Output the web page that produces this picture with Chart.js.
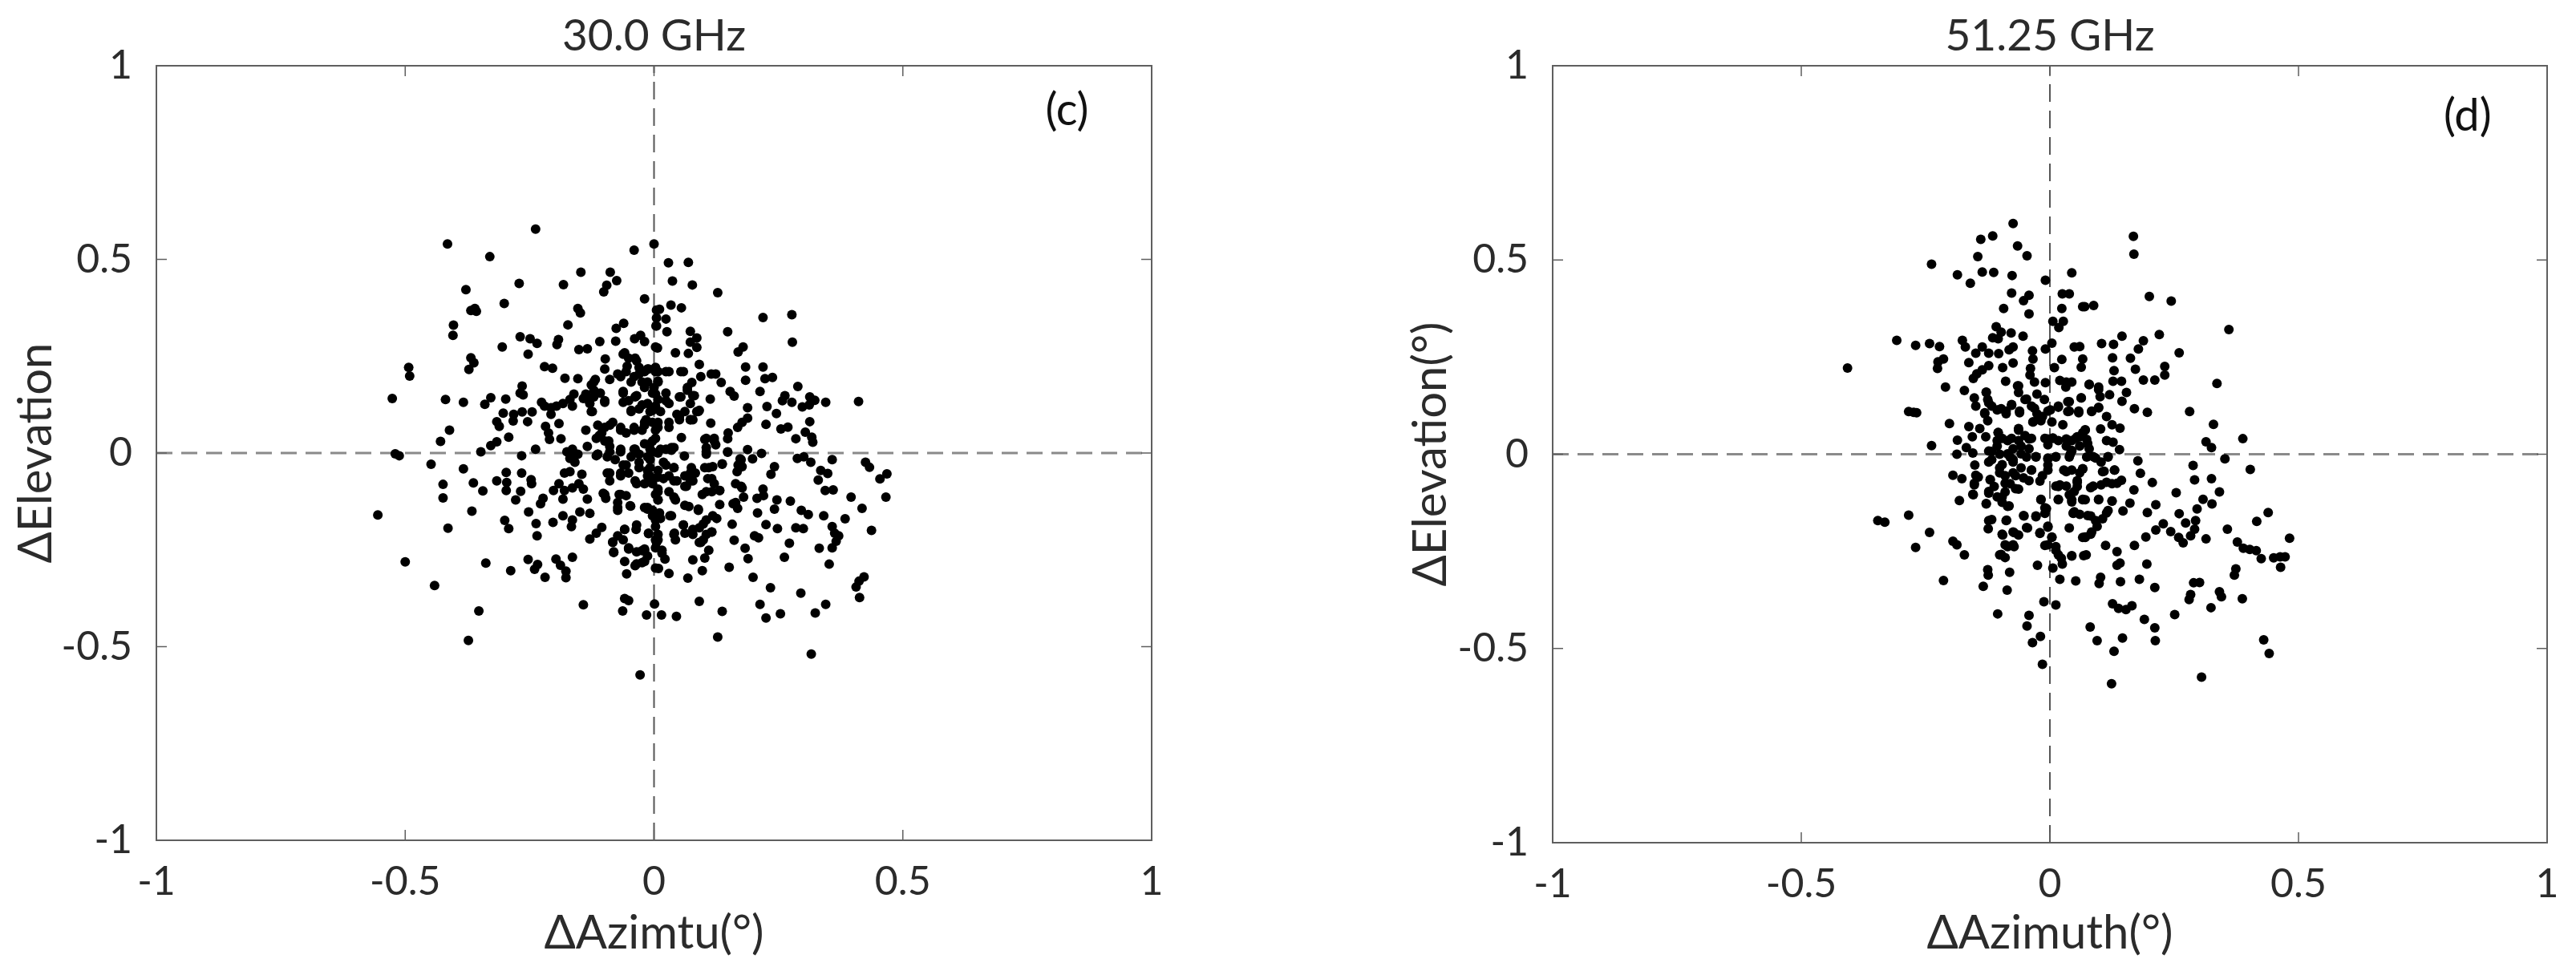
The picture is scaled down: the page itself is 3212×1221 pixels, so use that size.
<!DOCTYPE html>
<html lang="en">

<head>
    <meta charset="UTF-8" />
    <title>Pointing error scatter</title>
    <script src="https://cdn.jsdelivr.net/npm/chart.js"></script>
    <style>
        body {
            margin: 0;
            background: #fff;
        }

        canvas {
            position: absolute;
            top: 0;
        }
    </style>
</head>

<body>

    <canvas id="chart30" width="1600" height="1221" style="left:0"></canvas>
    <canvas id="chart51" width="1612" height="1221" style="left:1600px"></canvas>

    <script>
        const tickValues = [-1, -0.5, 0, 0.5, 1];
        const tickLabels = ['-1', '-0.5', '0', '0.5', '1'];

        // [dAzimuth, dElevation] in degrees
        const points30 = [
            [-0.238,0.578],[-0.415,0.540],[-0.330,0.507],[-0.378,0.422],[-0.271,0.438],[-0.301,0.386],[-0.368,0.368],[-0.360,0.373],[-0.357,0.366],[-0.403,0.330],
            [-0.404,0.304],[-0.182,0.435],[-0.147,0.467],[-0.088,0.467],[-0.075,0.445],[-0.095,0.433],[-0.101,0.416],[-0.040,0.524],[0,0.540],[-0.019,0.398],
            [-0.153,0.373],[-0.148,0.362],[-0.173,0.331],[-0.061,0.335],[-0.076,0.322],[-0.269,0.300],[-0.249,0.295],[-0.235,0.283],[-0.192,0.293],[-0.195,0.280],
            [-0.305,0.274],[-0.253,0.255],[-0.151,0.267],[-0.134,0.269],[-0.109,0.288],[-0.077,0.289],[-0.039,0.295],[-0.027,0.304],[-0.019,0.288],[0.003,0.274],
            [-0.368,0.246],[-0.362,0.233],[-0.372,0.216],[-0.493,0.221],[-0.491,0.199],[-0.220,0.223],[-0.204,0.219],[-0.179,0.193],[-0.153,0.192],[-0.098,0.243],
            [-0.099,0.217],[-0.526,0.141],[-0.419,0.138],[-0.383,0.131],[-0.328,0.143],[-0.340,0.126],[-0.298,0.139],[-0.265,0.173],[-0.269,0.155],[-0.263,0.150],
            [-0.303,0.103],[-0.316,0.081],[-0.311,0.069],[-0.282,0.100],[-0.283,0.083],[-0.265,0.106],[-0.245,0.106],[-0.254,0.081],[-0.411,0.059],[-0.429,0.030],
            [-0.292,0.041],[-0.316,0.029],[-0.328,0.019],[-0.348,0.003],[-0.238,0.010],[-0.266,-0.007],[-0.520,-0.002],[-0.512,-0.007],[-0.226,0.131],[-0.220,0.121],
            [-0.207,0.117],[-0.196,0.121],[-0.183,0.128],[-0.169,0.138],[-0.161,0.152],[-0.164,0.121],[-0.142,0.141],[-0.132,0.138],[-0.126,0.176],[-0.118,0.190],
            [-0.121,0.162],[-0.129,0.128],[-0.124,0.107],[-0.099,0.131],[-0.108,0.155],[-0.207,0.100],[-0.218,0.069],[-0.212,0.052],[-0.210,0.035],[-0.191,0.076],
            [-0.187,0.037],[-0.137,0.059],[-0.134,0.017],[-0.175,0.003],[-0.164,0.010],[-0.153,-0.003],[-0.169,-0.014],[-0.113,0.072],[-0.105,0.052],[-0.116,0.038],
            [-0.099,0.031],[-0.083,0.079],[-0.067,0.066],[-0.056,0.052],[-0.040,0.066],[-0.019,0.072],[-0.003,0.079],[-0.089,0.017],[-0.067,0.010],[-0.040,0.010],
            [-0.019,0.024],[-0.008,0.010],[-0.113,-0.003],[-0.059,0.259],[-0.051,0.245],[-0.035,0.238],[-0.073,0.204],[-0.056,0.210],[-0.046,0.183],[-0.030,0.204],
            [-0.013,0.217],[0.003,0.210],[-0.062,0.155],[-0.051,0.135],[-0.035,0.148],[-0.019,0.169],[0,0.169],[-0.046,0.107],[-0.030,0.114],[-0.013,0.128],
            [0.003,0.121],[-0.089,0.190],[0.005,0.369],[0.005,0.349],[0.005,0.328],[0.029,0.491],[0.069,0.492],[0.037,0.444],[0.077,0.434],[0.128,0.414],
            [0.011,0.371],[0.034,0.382],[0.055,0.375],[0.024,0.346],[0.004,0.328],[0.026,0.313],[0.073,0.314],[0.086,0.297],[0.073,0.286],[0.086,0.273],
            [0.069,0.257],[0.043,0.259],[0.007,0.271],[0.148,0.313],[0.179,0.274],[0.169,0.261],[0.219,0.350],[0.277,0.357],[0.278,0.286],[0.091,0.229],
            [0.184,0.222],[0.219,0.222],[0.184,0.188],[0.223,0.192],[0.238,0.195],[0.289,0.172],[0.213,0.159],[0.094,0.197],[0.115,0.204],[0.124,0.204],
            [0.135,0.182],[0.076,0.182],[0.153,0.159],[0.161,0.147],[0.113,0.139],[0.081,0.148],[0.054,0.145],[0.263,0.148],[0.258,0.135],[0.277,0.131],
            [0.313,0.145],[0.323,0.136],[0.312,0.124],[0.298,0.119],[0.345,0.131],[0.411,0.133],[0.188,0.117],[0.227,0.120],[0.246,0.102],[0.313,0.081],
            [0.225,0.074],[0.269,0.067],[0.255,0.062],[0.114,0.077],[0.188,0.090],[0.177,0.079],[0.168,0.066],[0.086,0.107],[0.091,0.110],[0.078,0.086],
            [0.055,0.040],[0.149,0.052],[0.148,0.037],[0.304,0.054],[0.317,0.041],[0.319,0.028],[0.285,0.037],[0.102,0.035],[0.121,0.038],[0.124,0.021],
            [0.105,0.014],[0.105,-0.003],[0.148,0.002],[0.188,0.009],[0.216,-0.001],[0.198,-0.015],[0.173,-0.015],[0.061,-0.008],[0.040,0.014],[-0.003,0.031],
            [-0.003,0.003],[0.024,0.010],[-0.011,0.217],[0.008,0.210],[0.030,0.210],[0.059,0.210],[-0.013,0.183],[0.008,0.183],[-0.003,0.155],[0.024,0.155],
            [0.008,0.138],[0.030,0.128],[-0.008,0.107],[0.013,0.107],[-0.016,0.086],[0.008,0.079],[0.030,0.066],[0.051,0.086],[0.073,0.128],[0.062,0.107],
            [0.046,0.100],[0.073,0.086],[-0.024,0.059],[0.003,0.059],[0.067,0.162],[-0.448,-0.029],[-0.383,-0.041],[-0.424,-0.081],[-0.424,-0.116],[-0.363,-0.077],
            [-0.344,-0.098],[-0.316,-0.072],[-0.297,-0.050],[-0.296,-0.076],[-0.297,-0.097],[-0.266,-0.052],[-0.247,-0.069],[-0.246,-0.079],[-0.268,-0.099],[-0.278,-0.121],
            [-0.555,-0.160],[-0.366,-0.150],[-0.414,-0.194],[-0.252,-0.152],[-0.223,-0.117],[-0.228,-0.131],[-0.300,-0.174],[-0.292,-0.195],[-0.237,-0.182],[-0.235,-0.214],
            [-0.203,-0.179],[-0.183,-0.162],[-0.164,-0.173],[-0.166,-0.190],[-0.149,-0.152],[-0.129,-0.156],[-0.134,-0.119],[-0.183,-0.119],[-0.202,-0.097],[-0.191,-0.079],
            [-0.180,-0.097],[-0.164,-0.090],[-0.151,-0.079],[-0.145,-0.055],[-0.142,-0.093],[-0.164,-0.010],[-0.169,-0.048],[-0.159,-0.024],[-0.180,-0.052],[-0.102,-0.104],
            [-0.097,-0.117],[-0.105,-0.192],[-0.116,-0.207],[-0.129,-0.222],[-0.070,-0.107],[-0.056,-0.110],[-0.073,-0.128],[-0.073,-0.148],[-0.047,-0.137],[-0.035,-0.186],
            [-0.036,-0.197],[-0.059,-0.197],[-0.073,-0.214],[-0.083,-0.230],[-0.011,-0.208],[-0.062,-0.224],[-0.051,-0.248],[-0.035,-0.255],[-0.019,-0.248],[-0.013,-0.266],
            [-0.024,-0.283],[-0.038,-0.291],[-0.081,-0.257],[-0.059,-0.280],[-0.055,-0.312],[0.003,-0.297],[-0.500,-0.281],[-0.338,-0.284],[-0.441,-0.342],[-0.288,-0.304],
            [-0.253,-0.275],[-0.234,-0.288],[-0.240,-0.300],[-0.219,-0.321],[-0.197,-0.274],[-0.188,-0.290],[-0.177,-0.305],[-0.177,-0.322],[-0.164,-0.269],[-0.352,-0.408],
            [-0.373,-0.484],[-0.142,-0.392],[-0.059,-0.376],[-0.051,-0.381],[-0.063,-0.408],[-0.015,-0.418],[0.001,-0.390],[-0.028,-0.573],[-0.094,-0.052],[-0.089,-0.072],
            [-0.067,-0.059],[-0.051,-0.052],[-0.030,-0.038],[-0.013,-0.059],[-0.003,-0.079],[0.003,-0.107],[-0.013,-0.141],[-0.003,-0.162],[0.003,-0.190],[0.003,-0.224],
            [0.003,-0.245],[-0.078,-0.017],[-0.062,-0.031],[-0.046,-0.010],[-0.030,-0.003],[-0.008,-0.017],[-0.116,-0.007],[-0.094,-0.010],[-0.035,-0.079],[0.242,-0.035],
            [0.235,-0.055],[0.288,-0.014],[0.301,-0.010],[0.315,-0.024],[0.358,-0.017],[0.335,-0.045],[0.349,-0.053],[0.330,-0.070],[0.344,-0.097],[0.360,-0.095],
            [0.425,-0.024],[0.433,-0.037],[0.468,-0.054],[0.454,-0.067],[0.466,-0.114],[0.396,-0.114],[0.418,-0.143],[0.384,-0.170],[0.341,-0.162],[0.437,-0.200],
            [0.358,-0.190],[0.363,-0.207],[0.371,-0.214],[0.366,-0.228],[0.332,-0.246],[0.358,-0.245],[0.352,-0.287],[0.422,-0.320],[0.412,-0.331],[0.406,-0.346],
            [0.413,-0.373],[0.296,-0.148],[0.310,-0.159],[0.274,-0.124],[0.285,-0.193],[0.300,-0.195],[0.247,-0.121],[0.242,-0.145],[0.248,-0.195],[0.225,-0.185],
            [0.219,-0.093],[0.220,-0.110],[0.207,-0.117],[0.208,-0.155],[0.202,-0.214],[0.210,-0.219],[0.272,-0.233],[0.262,-0.269],[0.183,-0.246],[0.189,-0.273],
            [0.161,-0.225],[0.157,-0.184],[0.151,-0.295],[0.199,-0.321],[0.234,-0.348],[0.295,-0.362],[0.213,-0.391],[0.225,-0.426],[0.254,-0.415],[0.324,-0.413],
            [0.345,-0.391],[0.316,-0.519],[0.128,-0.475],[0.137,-0.409],[0.091,-0.383],[0.045,-0.422],[0.015,-0.418],[0.068,-0.323],[0.097,-0.304],[0.030,-0.311],
            [0.009,-0.298],[0.078,-0.276],[0.102,-0.271],[0.110,-0.251],[0.091,-0.231],[0.022,-0.274],[0.016,-0.251],[0.005,-0.231],[0.008,-0.210],[0.043,-0.224],
            [0.041,-0.207],[0.059,-0.186],[0.062,-0.207],[0.078,-0.210],[0.091,-0.193],[0.105,-0.173],[0.118,-0.162],[0.105,-0.210],[0.116,-0.204],[0.099,-0.224],
            [0.132,-0.133],[0.159,-0.131],[0.168,-0.143],[0.180,-0.114],[0.177,-0.090],[0.164,-0.079],[0.167,-0.048],[0.175,-0.017],[0.177,-0.035],[0.137,-0.029],
            [0.118,-0.035],[0.102,-0.038],[0.108,-0.066],[0.121,-0.079],[0.132,-0.097],[0.116,-0.100],[0.097,-0.107],[0.075,-0.038],[0.083,-0.052],[0.062,-0.059],
            [0.073,-0.072],[0.065,-0.086],[0.043,-0.121],[0.070,-0.138],[0.089,-0.148],[0.032,-0.162],[0.011,-0.155],[0.003,-0.173],[-0.013,-0.145],[-0.019,-0.280],
            [-0.019,-0.252],[0.040,-0.038],[0.024,-0.031],[0.008,-0.045],[-0.008,-0.038],[-0.003,-0.072],[0.019,-0.066],[0.040,-0.072],[0.008,-0.100],[0.030,-0.100],
            [0.008,-0.121],[-0.019,-0.079],[-0.008,-0.059],[0.008,0],[0.035,0.007]
        ];

        // dense middle of panel (c), from a closer crop
        const core30 = [
            [-0.062,0.255],[-0.038,0.245],[-0.054,0.224],[-0.030,0.221],[-0.067,0.197],[-0.040,0.197],[-0.019,0.210],[0.003,0.221],[0.024,0.210],[0.054,0.210],
            [-0.024,0.183],[0.008,0.186],[-0.062,0.159],[-0.038,0.145],[-0.062,0.131],[-0.024,0.124],[0.003,0.152],[0.024,0.135],[-0.046,0.110],[-0.003,0.110],
            [-0.089,0.072],[-0.110,0.045],[-0.099,0.066],[-0.067,0.059],[-0.040,0.059],[-0.019,0.079],[0.008,0.066],[0.030,0.079],[0.051,0.093],[0.073,0.086],
            [0.089,0.107],[0.078,0.148],[0.067,0.169],[0.051,0.145],[-0.121,0.183],[-0.137,0.152],[-0.121,0.145],[-0.099,0.135],[-0.126,0.107],[-0.113,-0.003],
            [-0.089,0.003],[-0.091,0.031],[-0.067,0.003],[-0.038,0.010],[-0.056,-0.031],[-0.030,-0.024],[-0.008,0.024],[0.003,0.038],[0.035,0.014],[0.013,0.010],
            [-0.013,-0.010],[0.019,-0.024],[0.040,-0.038],[-0.089,-0.052],[-0.067,-0.052],[-0.038,-0.072],[-0.013,-0.045],[0.008,-0.062],[0.030,-0.059],[0.046,-0.072],
            [0.073,-0.052],[0.078,-0.072],[0.062,-0.086],[0.008,-0.093],[0.008,-0.121],[0.040,-0.114],[0.062,-0.135],[0.089,-0.145],[-0.003,-0.148],[0.013,-0.169],
            [0.035,-0.162],[-0.019,-0.141],[-0.067,-0.107],[-0.073,-0.141],[-0.048,-0.136],[-0.099,-0.107],[0.105,0.038],[0.121,0.031],[0.105,0.003],[0.110,-0.038],
            [0.137,-0.028],[0.148,0.003],[0.116,-0.066],[0.132,-0.097],[0.105,-0.100],[0.164,-0.128],[0.169,-0.031],[0.175,-0.086],[0.126,-0.169],[0.099,-0.183],
            [0.078,-0.197],[0.059,-0.186],[0.116,-0.204],[0.094,-0.231],[0.040,-0.210],[-0.011,-0.207],[0.008,-0.224],[0.016,-0.259],[-0.059,-0.197],[-0.083,-0.231],
            [-0.081,-0.255],[-0.051,-0.245],[-0.024,-0.252],[-0.035,-0.286]
        ];

        // [dAzimuth, dElevation] in degrees
        const points51 = [
            [-0.074,0.594],[-0.139,0.553],[-0.115,0.562],[-0.065,0.536],[-0.046,0.511],[-0.145,0.509],[-0.238,0.489],[-0.186,0.462],[-0.160,0.440],[-0.136,0.469],
            [-0.113,0.468],[-0.076,0.460],[-0.009,0.448],[0.044,0.467],[-0.077,0.415],[-0.042,0.409],[-0.053,0.395],[-0.093,0.375],[-0.042,0.361],[0.025,0.413],
            [0.039,0.413],[0.024,0.375],[0.066,0.380],[0.006,0.342],[0.027,0.342],[0.018,0.326],[-0.108,0.328],[-0.098,0.314],[-0.115,0.300],[-0.104,0.297],
            [-0.078,0.312],[-0.054,0.304],[-0.074,0.276],[-0.082,0.269],[0.004,0.286],[-0.009,0.271],[0.049,0.276],[0.060,0.277],[-0.308,0.293],[-0.270,0.280],
            [-0.242,0.285],[-0.222,0.277],[-0.176,0.293],[-0.170,0.276],[-0.136,0.276],[-0.149,0.260],[-0.123,0.260],[-0.103,0.259],[-0.035,0.266],[-0.034,0.245],
            [-0.039,0.221],[-0.040,0.204],[-0.031,0.186],[0.024,0.244],[0.009,0.223],[0.063,0.224],[0.066,0.245],[-0.214,0.245],[-0.225,0.238],[-0.226,0.221],
            [-0.407,0.222],[-0.163,0.236],[-0.074,0.235],[-0.095,0.223],[-0.123,0.228],[-0.136,0.217],[-0.147,0.207],[-0.154,0.195],[-0.089,0.188],[-0.009,0.184],
            [0.020,0.190],[0.033,0.186],[0.044,0.186],[0.032,0.173],[-0.210,0.173],[-0.172,0.164],[-0.065,0.176],[-0.063,0.159],[-0.026,0.155],[-0.011,0.141],
            [-0.128,0.160],[-0.125,0.141],[-0.152,0.145],[-0.149,0.124],[-0.117,0.124],[-0.131,0.107],[-0.098,0.117],[-0.077,0.126],[-0.088,0.104],[-0.061,0.107],
            [-0.125,0.086],[-0.050,0.141],[-0.037,0.124],[-0.026,0.104],[-0.015,0.097],[0.001,0.114],[0.017,0.124],[0.036,0.135],[0.063,0.145],[0.036,0.110],
            [0.058,0.107],[-0.034,0.083],[-0.018,0.086],[0.004,0.083],[0.026,0.076],[-0.274,0.108],[-0.284,0.110],[-0.268,0.107],[-0.202,0.079],[-0.163,0.071],
            [-0.141,0.066],[-0.156,0.045],[-0.129,0.045],[-0.186,0.036],[-0.238,0.022],[-0.187,0],[-0.168,0.017],[-0.155,0.003],[-0.104,0.055],[-0.106,0.035],
            [-0.096,0.041],[-0.077,0.041],[-0.063,0.062],[-0.050,0.048],[-0.037,0.041],[-0.058,0.021],[-0.074,0.014],[-0.042,0.014],[-0.117,0.007],[-0.101,0],
            [-0.080,-0.007],[-0.010,0.041],[0.006,0.041],[-0.004,0.024],[0.017,0.035],[0.033,0.021],[0.052,0.041],[0.066,0.055],[0.044,0.010],[-0.028,-0.007],
            [-0.004,-0.010],[0.012,-0.007],[0.039,-0.007],[0.060,0.021],[0.168,0.561],[0.169,0.515],[0.200,0.406],[0.244,0.394],[0.070,0.380],[0.088,0.383],
            [0.360,0.321],[0.220,0.308],[0.145,0.304],[0.104,0.285],[0.128,0.283],[0.188,0.292],[0.178,0.271],[0.162,0.247],[0.260,0.261],[0.126,0.248],
            [0.129,0.215],[0.172,0.219],[0.231,0.226],[0.231,0.204],[0.188,0.191],[0.211,0.191],[0.127,0.188],[0.144,0.188],[0.336,0.182],[0.079,0.179],
            [0.098,0.173],[0.101,0.148],[0.120,0.153],[0.154,0.159],[0.145,0.136],[0.098,0.119],[0.084,0.110],[0.170,0.117],[0.196,0.108],[0.281,0.110],
            [0.329,0.077],[0.388,0.040],[0.314,0.032],[0.325,0.017],[0.114,0.097],[0.125,0.076],[0.141,0.067],[0.102,0.065],[0.071,0.062],[0.114,0.035],
            [0.127,0.031],[0.140,0.012],[0.060,0.045],[0.074,0.038],[0.044,0.035],[0.079,0.014],[0.041,0],[0.074,-0.007],[0.092,-0.010],[0.117,-0.007],
            [0.177,-0.017],[0.352,-0.012],[-0.151,-0.028],[-0.195,-0.054],[-0.177,-0.063],[-0.144,-0.059],[-0.152,-0.079],[-0.154,-0.104],[-0.182,-0.119],[-0.120,-0.066],
            [-0.123,-0.100],[-0.128,-0.128],[-0.106,-0.110],[-0.096,-0.124],[-0.082,-0.133],[-0.284,-0.157],[-0.346,-0.171],[-0.332,-0.175],[-0.242,-0.201],[-0.270,-0.240],
            [-0.195,-0.224],[-0.187,-0.233],[-0.172,-0.259],[-0.214,-0.325],[-0.117,-0.168],[-0.124,-0.192],[-0.087,-0.170],[-0.095,-0.208],[-0.074,-0.200],[-0.063,-0.208],
            [-0.052,-0.159],[-0.045,-0.190],[-0.028,-0.159],[-0.010,-0.152],[-0.018,-0.117],[-0.010,-0.138],[-0.020,-0.204],[-0.004,-0.188],[0.039,-0.190],[0.004,-0.214],
            [-0.010,-0.235],[0.012,-0.238],[0.017,-0.259],[0.044,-0.262],[0.025,-0.283],[0.006,-0.293],[-0.085,-0.238],[-0.101,-0.259],[-0.072,-0.238],[-0.090,-0.266],
            [-0.025,-0.286],[-0.081,-0.304],[-0.125,-0.297],[-0.124,-0.311],[-0.134,-0.340],[-0.086,-0.350],[0.020,-0.322],[0.052,-0.326],[-0.012,-0.380],[0.012,-0.388],
            [-0.105,-0.411],[-0.042,-0.415],[-0.046,-0.442],[-0.019,-0.469],[-0.035,-0.485],[-0.015,-0.541],[0.066,-0.214],[0.068,-0.261],[-0.117,-0.014],[-0.101,-0.035],
            [-0.090,-0.055],[-0.080,-0.076],[-0.063,-0.090],[-0.069,-0.055],[-0.058,-0.035],[-0.037,-0.041],[-0.020,-0.069],[-0.004,-0.028],[0.033,-0.045],[0.017,-0.083],
            [0.039,-0.104],[0.060,-0.048],[0.055,-0.083],[0.049,-0.148],[0.066,-0.117],[-0.112,-0.083],[-0.074,-0.014],[-0.047,-0.007],[-0.090,-0.097],[0.288,-0.029],
            [0.403,-0.039],[0.182,-0.049],[0.291,-0.066],[0.325,-0.063],[0.206,-0.073],[0.169,-0.092],[0.254,-0.099],[0.341,-0.097],[0.308,-0.116],[0.326,-0.128],
            [0.296,-0.141],[0.213,-0.130],[0.161,-0.126],[0.147,-0.146],[0.196,-0.150],[0.260,-0.153],[0.273,-0.177],[0.293,-0.171],[0.291,-0.193],[0.283,-0.210],
            [0.228,-0.179],[0.213,-0.195],[0.193,-0.213],[0.170,-0.235],[0.243,-0.199],[0.259,-0.214],[0.268,-0.228],[0.314,-0.218],[0.357,-0.193],[0.416,-0.173],
            [0.439,-0.150],[0.482,-0.216],[0.377,-0.226],[0.389,-0.242],[0.402,-0.245],[0.415,-0.248],[0.425,-0.269],[0.450,-0.267],[0.463,-0.264],[0.473,-0.264],
            [0.464,-0.291],[0.374,-0.295],[0.371,-0.311],[0.112,-0.235],[0.135,-0.251],[0.073,-0.259],[0.195,-0.283],[0.141,-0.280],[0.135,-0.286],[0.102,-0.317],
            [0.099,-0.333],[0.142,-0.328],[0.180,-0.322],[0.211,-0.343],[0.289,-0.331],[0.301,-0.330],[0.283,-0.361],[0.280,-0.374],[0.341,-0.354],[0.345,-0.367],
            [0.387,-0.372],[0.324,-0.395],[0.251,-0.413],[0.126,-0.385],[0.138,-0.397],[0.153,-0.400],[0.165,-0.390],[0.190,-0.425],[0.211,-0.447],[0.081,-0.445],
            [0.095,-0.480],[0.146,-0.473],[0.212,-0.480],[0.129,-0.507],[0.430,-0.478],[0.441,-0.513],[0.124,-0.591],[0.305,-0.574],[0.071,-0.214],[0.084,-0.200],
            [0.095,-0.186],[0.106,-0.166],[0.117,-0.145],[0.082,-0.159],[0.144,-0.067],[0.125,-0.076],[0.103,-0.079],[0.082,-0.086],[0.130,-0.041],[0.066,-0.038],
            [0.106,-0.045],[0.055,-0.072],[0.020,-0.079],[0.098,-0.117],[0.125,-0.121],[0.071,-0.117],[0.044,-0.117],[0.017,-0.117],[0.047,-0.152],[0.060,-0.155]
        ];

        // dense middle of panel (d), from a closer crop
        const core51 = [
            [-0.128,0.159],[-0.123,0.132],[-0.131,0.104],[-0.106,0.114],[-0.088,0.111],[-0.077,0.128],[-0.061,0.111],[-0.063,0.176],[-0.047,0.142],[-0.031,0.118],
            [-0.020,0.097],[-0.034,0.083],[-0.004,0.111],[0.017,0.121],[0.039,0.135],[0.063,0.145],[0.039,0.111],[0.058,0.111],[0.084,0.111],[0.098,0.121],
            [0.079,0.180],[0.098,0.166],[-0.104,0.056],[-0.063,0.066],[-0.085,0.035],[-0.106,0.021],[-0.063,0.035],[-0.042,0.039],[-0.123,0.008],[-0.085,0.001],
            [-0.058,0.001],[-0.004,0.039],[0.006,0.042],[0.033,0.039],[0.055,0.045],[0.071,0.063],[0.076,0.028],[0.044,0.008],[0.012,-0.006],[-0.004,-0.013],
            [-0.028,-0.006],[-0.123,-0.020],[-0.096,-0.027],[-0.074,-0.020],[-0.004,-0.041],[-0.037,-0.041],[-0.053,-0.061],[-0.074,-0.048],[-0.101,-0.048],[-0.090,-0.075],
            [-0.069,-0.089],[-0.042,-0.068],[-0.015,-0.055],[0.028,-0.041],[0.044,-0.041],[0.055,-0.068],[0.066,-0.037],[0.103,-0.020],[0.109,-0.044],[0.130,-0.041],
            [0.087,-0.006],[0.117,-0.006],[0.135,-0.075],[0.114,-0.072],[0.087,-0.082],[0.012,-0.082],[0.033,-0.082],[0.049,-0.096],[0.066,-0.116],[0.098,-0.116],
            [0.017,-0.116],[0.044,-0.123],[0.047,-0.151],[0.076,-0.158],[0.092,-0.171],[0.114,-0.151],[0.125,-0.120],[0.082,-0.206],[0.071,-0.213],[-0.018,-0.116],
            [-0.007,-0.140],[-0.028,-0.161],[-0.053,-0.158],[-0.047,-0.189],[-0.072,-0.202],[-0.096,-0.206],[-0.123,-0.096],[-0.096,-0.110],[-0.085,-0.134],[-0.128,-0.127],
            [-0.123,-0.171],[-0.088,-0.171],[-0.020,-0.202],[-0.004,-0.185],[0.004,-0.213],[-0.004,-0.233],[0.012,-0.247],[0.023,-0.268],[0.044,-0.261],[-0.074,-0.233],
            [-0.090,-0.233],[-0.098,-0.258],[-0.149,-0.054],[-0.152,-0.075],[-0.155,-0.103],[-0.120,-0.065]
        ];

        const titles = ['30.0 GHz', '51.25 GHz'];
        const xTitles = ['\u0394Azimtu(\u00b0)', '\u0394Azimuth(\u00b0)'];
        const yTitles = ['\u0394Elevation', '\u0394Elevation(\u00b0)'];
        const panelLabels = ['(c)', '(d)'];
        const panelLabelX = [0.83, 0.84];
        const panelLabelY = [0.885, 0.87];
        const axisRange = [-1, 1];

        const textColor = '#2b2b2b';
        const axisColor = '#5f5f5f';
        const fontFamily = "Lato, 'Open Sans', sans-serif";

        // box and inward tick marks, matlab style
        const boxPlugin = {
            id: 'boxPlugin',
            afterDatasetsDraw(chart, args, opts) {
                const { ctx, chartArea: a, scales: { x, y } } = chart;
                const tick = 13;
                ctx.save();
                ctx.strokeStyle = axisColor;
                ctx.lineWidth = 2;
                ctx.strokeRect(a.left, a.top, a.right - a.left, a.bottom - a.top);
                ctx.lineWidth = 1.5;
                ctx.beginPath();
                tickValues.slice(1, -1).forEach(v => {
                    const px = x.getPixelForValue(v);
                    const py = y.getPixelForValue(v);
                    ctx.moveTo(px, a.top);
                    ctx.lineTo(px, a.top + tick);
                    ctx.moveTo(px, a.bottom);
                    ctx.lineTo(px, a.bottom - tick);
                    ctx.moveTo(a.left, py);
                    ctx.lineTo(a.left + tick, py);
                    ctx.moveTo(a.right, py);
                    ctx.lineTo(a.right - tick, py);
                });
                ctx.stroke();
                ctx.fillStyle = '#111';
                ctx.font = '56px ' + fontFamily;
                ctx.textAlign = 'center';
                ctx.textBaseline = 'middle';
                ctx.fillText(opts.label, x.getPixelForValue(opts.x), y.getPixelForValue(opts.y));
                ctx.restore();
            }
        };

        function makePanel(id, i, points, yAxisWidth, xAxisHeight, rightPad, yTitleGap) {
            new Chart(document.getElementById(id).getContext('2d'), {
                type: 'scatter',
                plugins: [boxPlugin],
                data: {
                    datasets: [
                        {
                            data: points.map(p => ({ x: p[0], y: p[1] })),
                            backgroundColor: '#000',
                            borderWidth: 0,
                            pointRadius: 6,
                            order: 0
                        },
                        {
                            data: axisRange.map(v => ({ x: v, y: 0 })),
                            showLine: true,
                            pointRadius: 0,
                            borderColor: '#8a8a8a',
                            borderWidth: 3,
                            borderDash: [20, 11],
                            order: 1
                        },
                        {
                            data: axisRange.map(v => ({ x: 0, y: v })),
                            showLine: true,
                            pointRadius: 0,
                            borderColor: '#555',
                            borderWidth: 2,
                            borderDash: [22, 11],
                            order: 1
                        }
                    ]
                },
                options: {
                    responsive: false,
                    animation: false,
                    layout: { padding: { right: rightPad } },
                    plugins: {
                        legend: { display: false },
                        tooltip: { enabled: false },
                        title: {
                            display: true,
                            text: titles[i],
                            fullSize: false,
                            color: textColor,
                            font: { family: fontFamily, size: 55, weight: 'normal' },
                            padding: { top: 12, bottom: 4 }
                        },
                        boxPlugin: { label: panelLabels[i], x: panelLabelX[i], y: panelLabelY[i] }
                    },
                    scales: {
                        x: {
                            min: axisRange[0],
                            max: axisRange[1],
                            afterFit: s => { s.height = xAxisHeight; },
                            grid: { display: false },
                            border: { display: false },
                            ticks: {
                                stepSize: 0.5,
                                padding: 14,
                                maxRotation: 0,
                                color: textColor,
                                font: { family: fontFamily, size: 50 },
                                callback: (v, idx) => tickLabels[idx]
                            },
                            title: {
                                display: true,
                                text: xTitles[i],
                                color: textColor,
                                font: { family: fontFamily, size: 58 },
                                padding: { top: 0, bottom: 22 }
                            }
                        },
                        y: {
                            min: axisRange[0],
                            max: axisRange[1],
                            afterFit: s => { s.width = yAxisWidth; },
                            grid: { display: false },
                            border: { display: false },
                            ticks: {
                                stepSize: 0.5,
                                padding: 22,
                                color: textColor,
                                font: { family: fontFamily, size: 50 },
                                callback: (v, idx) => tickLabels[idx]
                            },
                            title: {
                                display: true,
                                text: yTitles[i],
                                color: textColor,
                                font: { family: fontFamily, size: 58 },
                                padding: { top: yTitleGap, bottom: 0 }
                            }
                        }
                    }
                }
            });
        }

        makePanel('chart30', 0, points30.concat(core30), 195, 173, 164, 10);
        makePanel('chart51', 1, points51.concat(core51), 336, 170, 36, 149);
    </script>

</body>

</html>
